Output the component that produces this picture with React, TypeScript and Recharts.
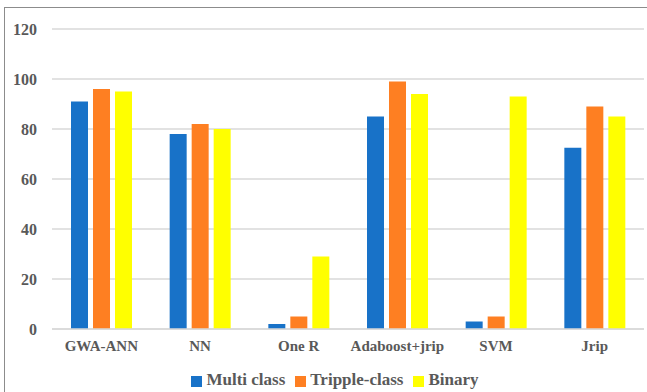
import { BarChart, Bar, XAxis, YAxis, CartesianGrid, Legend } from "recharts";

const categories = ["GWA-ANN", "NN", "One R", "Adaboost+jrip", "SVM", "Jrip"];
const multiClass = [91, 78, 2, 85, 3, 72.5];
const trippleClass = [96, 82, 5, 99, 5, 89];
const binary = [95, 80, 29, 94, 93, 85];
const yTicks = [0, 20, 40, 60, 80, 100, 120];
const seriesOrder = ["multi", "tripple", "binary"];

const data = categories.map((name, i) => ({
  name,
  multi: multiClass[i],
  tripple: trippleClass[i],
  binary: binary[i],
}));

const font = '"Liberation Serif", "Times New Roman", serif';
const textColor = "#595959";

export default function App() {
  return (
    <div
      style={{
        position: "absolute",
        left: 0,
        top: 0,
        width: 647,
        height: 392,
        background: "#fff",
        overflow: "hidden",
        fontFamily: font,
      }}
    >
      {/* outer frame, runs off the right/bottom edge like the original */}
      <div
        style={{
          position: "absolute",
          left: 4,
          top: 7,
          width: 660,
          height: 400,
          border: "1px solid #8c8c8c",
        }}
      />
      <div style={{ position: "absolute", left: 0, top: 0 }}>
        <BarChart
          width={647}
          height={392}
          data={data}
          margin={{ top: 29, right: 3, bottom: 13, left: 0 }}
          barCategoryGap={19}
          barGap={5}
          style={{ fontFamily: font }}
        >
          <CartesianGrid vertical={false} stroke="#d9d9d9" strokeWidth={1.5} />
          <XAxis
            dataKey="name"
            axisLine={{ stroke: "#d9d9d9", strokeWidth: 1.5 }}
            tickLine={false}
            tickSize={0}
            tickMargin={11}
            height={30}
            tick={{ fill: textColor, fontSize: 15, fontWeight: "bold", fontFamily: font }}
          />
          <YAxis
            domain={[0, 120]}
            ticks={yTicks}
            axisLine={false}
            tickLine={false}
            tickSize={0}
            tickMargin={15}
            width={52}
            tick={{ fill: textColor, fontSize: 16, fontWeight: "bold", fontFamily: font }}
          />
          <Legend
            verticalAlign="bottom"
            iconType="square"
            iconSize={11}
            itemSorter={(item: any) => seriesOrder.indexOf(item.dataKey)}
            wrapperStyle={{
              fontFamily: font,
              fontWeight: "bold",
              fontSize: 17,
              color: textColor,
              left: 18,
              bottom: 2,
            }}
            formatter={(value) => <span style={{ color: textColor }}>{value}</span>}
          />
          <Bar dataKey="multi" name="Multi class" fill="#1872c8" barSize={17} isAnimationActive={false} />
          <Bar dataKey="tripple" name="Tripple-class" fill="#fe7f22" barSize={17} isAnimationActive={false} />
          <Bar dataKey="binary" name="Binary" fill="#ffff00" barSize={17} isAnimationActive={false} />
        </BarChart>
      </div>
    </div>
  );
}
